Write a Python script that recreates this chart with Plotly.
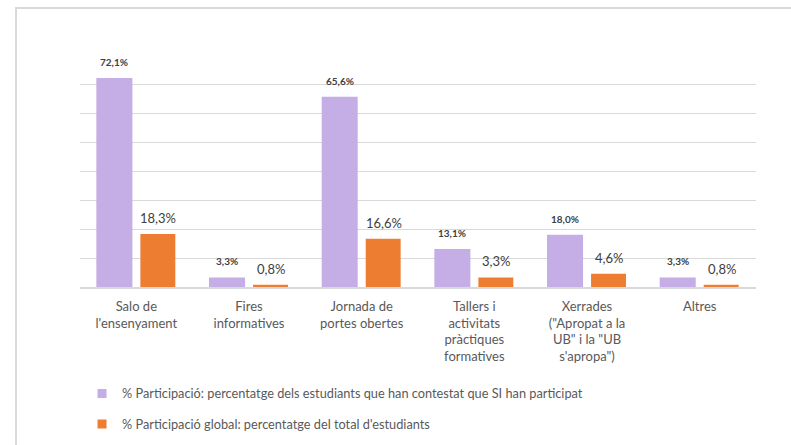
import plotly.graph_objects as go

categories = [
    "Salo de<br>l'ensenyament",
    "Fires<br>informatives",
    "Jornada de<br>portes obertes",
    "Tallers i<br>activitats<br>pràctiques<br>formatives",
    "Xerrades<br>(\"Apropat a la<br>UB\" i la \"UB<br>s'apropa\")",
    "Altres",
]
series_names = [
    "% Participació: percentatge dels estudiants que han contestat que SI han participat",
    "% Participació global: percentatge del total d'estudiants",
]
particip = [72.1, 3.3, 65.6, 13.1, 18.0, 3.3]
particip_global = [18.3, 0.8, 16.6, 3.3, 4.6, 0.8]

PURPLE = "#c5aee6"
ORANGE = "#ed7d31"
GRID = "#d9d9d9"
TXT = "#595959"
LBL = "#404040"
FONT = "Lato, 'Open Sans', sans-serif"

def fmt(v):
    return f"{v:.1f}".replace(".", ",") + "%"

fig = go.Figure()
fig.add_trace(go.Bar(x=categories, y=particip, name=series_names[0],
                     marker=dict(color=PURPLE, line=dict(width=0)),
                     width=0.32, offset=-0.355, showlegend=False))
fig.add_trace(go.Bar(x=categories, y=particip_global, name=series_names[1],
                     marker=dict(color=ORANGE, line=dict(width=0)),
                     width=0.31, offset=0.036, showlegend=False))
# legend entries (small squares)
fig.add_trace(go.Scatter(x=[None], y=[None], mode="markers", name=series_names[0],
                         marker=dict(symbol="square", size=9, color=PURPLE),
                         legendgroup="a"))
fig.add_trace(go.Scatter(x=[None], y=[None], mode="markers", name=series_names[1],
                         marker=dict(symbol="square", size=9, color=ORANGE),
                         legendgroup="b"))

annotations = []
for c, v in zip(categories, particip):
    annotations.append(dict(x=c, y=v, xref="x", yref="y", text=fmt(v), showarrow=False,
                            xshift=-22, yshift=16, yanchor="middle",
                            font=dict(family=FONT, size=10, color=LBL, weight="bold")))
for c, v in zip(categories, particip_global):
    annotations.append(dict(x=c, y=v, xref="x", yref="y", text=fmt(v), showarrow=False,
                            xshift=22, yshift=16, yanchor="middle",
                            font=dict(family=FONT, size=13, color=LBL)))

fig.update_layout(
    width=791, height=445,
    margin=dict(l=80, r=35, t=55, b=158),
    paper_bgcolor="white", plot_bgcolor="white",
    font=dict(family=FONT, size=13, color=TXT),
    barmode="overlay",
    annotations=annotations,
    showlegend=True,
    legend=dict(orientation="v", x=0.003, xanchor="left",
                y=0.149, yref="container", yanchor="top",
                font=dict(family=FONT, size=12.75, color=TXT),
                tracegroupgap=11, bgcolor="rgba(0,0,0,0)"),
    shapes=[dict(type="rect", xref="paper", yref="paper",
                 x0=-0.0947, x1=1.1, y0=-0.8, y1=1.2026,
                 line=dict(color="#d9d9d9", width=2), layer="above")],
)
fig.update_xaxes(showline=True, linecolor=GRID, linewidth=2, ticks="",
                 tickfont=dict(family=FONT, size=13, color=TXT),
                 ticklabelstandoff=6, showgrid=False)
fig.update_yaxes(range=[0, 80], dtick=10, showticklabels=False, showgrid=True,
                 gridcolor=GRID, gridwidth=1, zeroline=False, showline=False)

fig.write_html("out.html", config={"displayModeBar": False},
               post_script="document.body.style.margin='0';document.body.style.overflow='hidden';")
